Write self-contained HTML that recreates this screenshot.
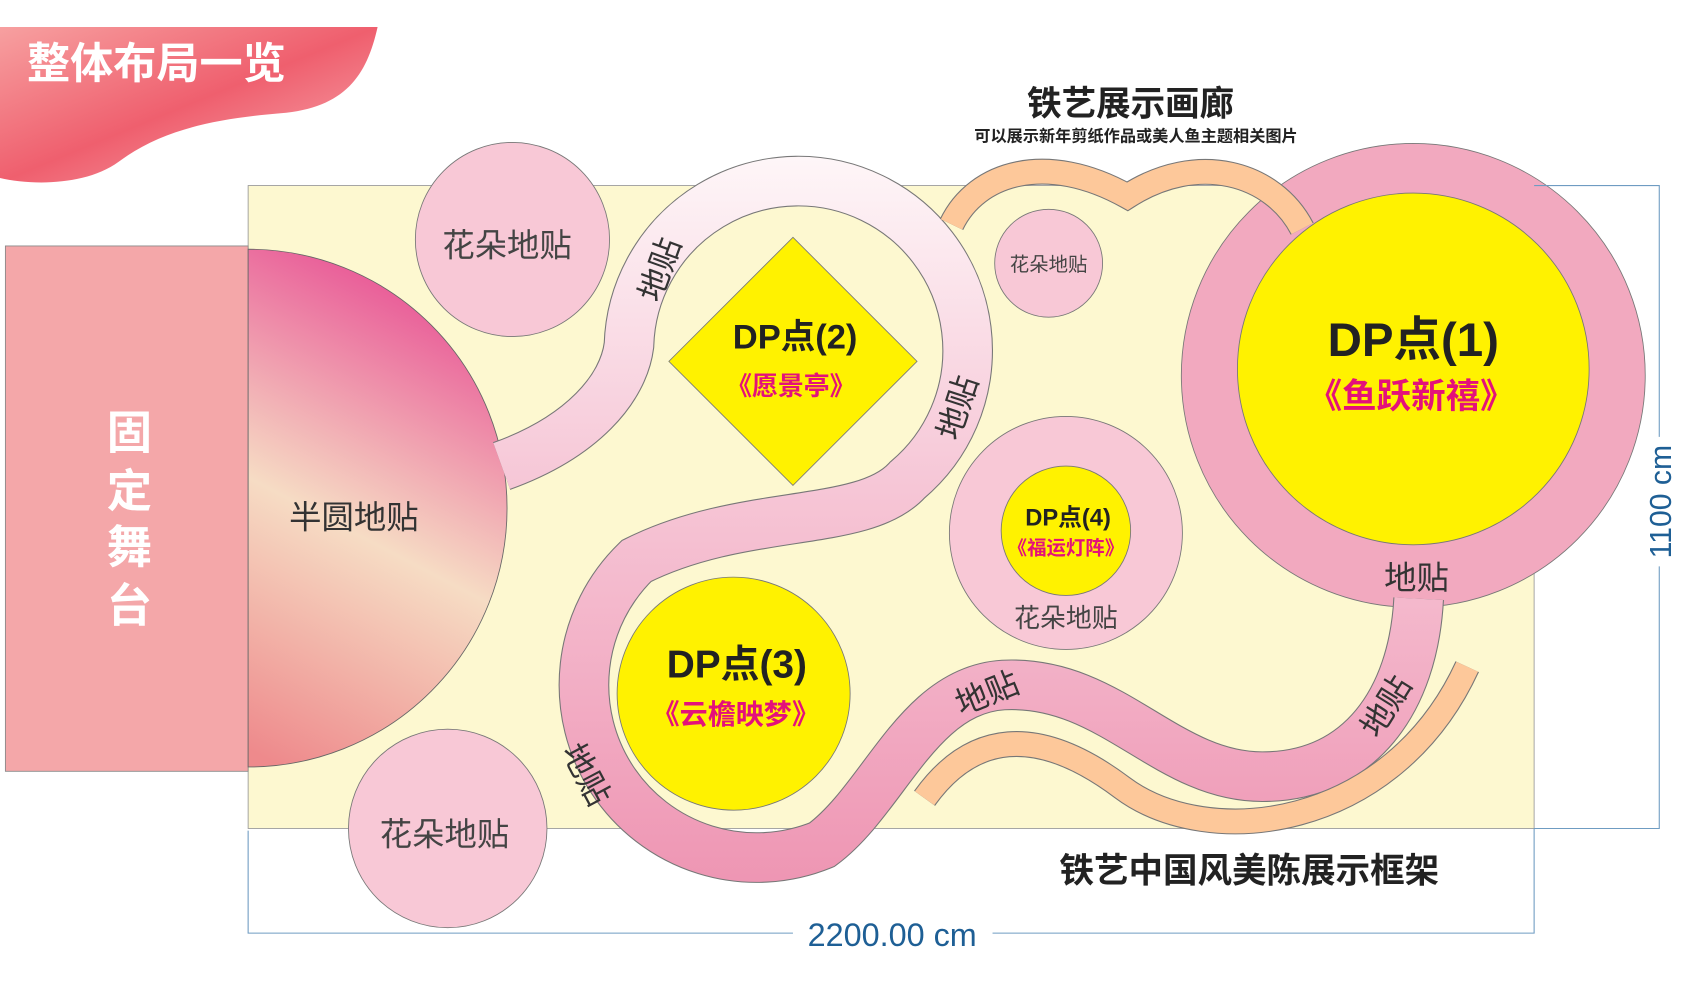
<!DOCTYPE html>
<html><head><meta charset="utf-8"><style>
html,body{margin:0;padding:0;background:#fff;}
svg{display:block;}
text{font-family:"Liberation Sans","Noto Sans CJK SC",sans-serif;}
</style></head><body>
<svg width="1683" height="1000" viewBox="0 0 1560 927" preserveAspectRatio="none" xmlns="http://www.w3.org/2000/svg">
<defs>
<linearGradient id="hc" gradientUnits="userSpaceOnUse" x1="470" y1="260" x2="240" y2="700">
<stop offset="0" stop-color="#e63e8e"/><stop offset="0.55" stop-color="#f6dcc4"/><stop offset="1" stop-color="#ee8a8c"/>
</linearGradient>
<linearGradient id="band" gradientUnits="userSpaceOnUse" x1="0" y1="145" x2="0" y2="830">
<stop offset="0" stop-color="#fef6f8"/><stop offset="0.45" stop-color="#f6c6d6"/><stop offset="1" stop-color="#ee94b2"/>
</linearGradient>
<linearGradient id="blob" x1="0" y1="0" x2="1" y2="1">
<stop offset="0" stop-color="#f7a0a0"/><stop offset="0.5" stop-color="#ef5f6e"/><stop offset="1" stop-color="#f7b0b5"/>
</linearGradient>
</defs>
<path d="M0,25 L350,25 C340,70 320,100 260,105 C200,110 150,120 110,150 C80,172 30,172 0,165 Z" fill="url(#blob)"/>
<text x="25" y="73" font-size="40" font-weight="bold" fill="#fff">整体布局一览</text>
<rect x="230" y="172" width="1192" height="596" fill="#fdf8d0" stroke="#999" stroke-width="0.8"/>
<rect x="5" y="228" width="225" height="487" fill="#f4a7a9" stroke="#888" stroke-width="0.8"/>
<g font-size="42" font-weight="bold" fill="#fff" text-anchor="middle">
<text x="120" y="416">固</text><text x="120" y="470">定</text><text x="120" y="522">舞</text><text x="120" y="576">台</text></g>
<path d="M230,231 A240,240 0 0 1 230,711 Z" fill="url(#hc)" stroke="#666" stroke-width="0.8"/>
<text x="328" y="490" font-size="30" fill="#333" text-anchor="middle">半圆地贴</text>
<circle cx="1310" cy="348" r="215" fill="#f2a9bf" stroke="#777" stroke-width="0.8"/>
<g fill="none">
<path d="M465,432 C540,405 578,360 583,320 A157,157 0 1 1 841,445 C800,490 690,470 590,520 A160,160 0 0 0 762,783 C820,740 850,640 930,635 C1030,630 1080,720 1170,720 C1260,720 1310,650 1315,555" stroke="#777" stroke-width="47"/>
<path d="M465,432 C540,405 578,360 583,320 A157,157 0 1 1 841,445 C800,490 690,470 590,520 A160,160 0 0 0 762,783 C820,740 850,640 930,635 C1030,630 1080,720 1170,720 C1260,720 1310,650 1315,555" stroke="url(#band)" stroke-width="45"/>
</g>
<g fill="none" stroke-linecap="butt">
<path d="M882,208 C905,160 970,140 1045,182 C1110,140 1180,160 1207,212" stroke="#777" stroke-width="24"/>
<path d="M882,208 C905,160 970,140 1045,182 C1110,140 1180,160 1207,212" stroke="#fdc89a" stroke-width="22"/>
<path d="M857,740 C900,680 960,670 1040,730 C1120,790 1290,770 1360,618" stroke="#777" stroke-width="24"/>
<path d="M857,740 C900,680 960,670 1040,730 C1120,790 1290,770 1360,618" stroke="#fdc89a" stroke-width="22"/>
</g>
<circle cx="1310" cy="342" r="163" fill="#fff200" stroke="#777" stroke-width="0.8"/>
<text x="1310" y="330" font-size="44" font-weight="bold" fill="#222" text-anchor="middle">DP点(1)</text>
<text x="1308" y="378" font-size="32" font-weight="bold" fill="#e4117a" text-anchor="middle">《鱼跃新禧》</text>
<text x="1313" y="546" font-size="30" fill="#333" text-anchor="middle">地贴</text>
<circle cx="475" cy="222" r="90" fill="#f8c8d6" stroke="#777" stroke-width="0.8"/>
<text x="470" y="238" font-size="30" fill="#444" text-anchor="middle">花朵地贴</text>
<circle cx="415" cy="768" r="92" fill="#f8c8d6" stroke="#777" stroke-width="0.8"/>
<text x="412" y="784" font-size="30" fill="#444" text-anchor="middle">花朵地贴</text>
<circle cx="972" cy="244" r="50" fill="#f8c8d6" stroke="#777" stroke-width="0.8"/>
<text x="972" y="251" font-size="18" fill="#444" text-anchor="middle">花朵地贴</text>
<circle cx="988" cy="494" r="108" fill="#f8c8d6" stroke="#777" stroke-width="0.8"/>
<circle cx="988" cy="492" r="60" fill="#fff200" stroke="#777" stroke-width="0.8"/>
<text x="990" y="487" font-size="22" font-weight="bold" fill="#222" text-anchor="middle">DP点(4)</text>
<text x="988" y="514" font-size="18" font-weight="bold" fill="#e4117a" text-anchor="middle">《福运灯阵》</text>
<text x="988" y="581" font-size="24" fill="#444" text-anchor="middle">花朵地贴</text>
<polygon points="735,220 850,335 735,450 620,335" fill="#fff200" stroke="#777" stroke-width="0.8"/>
<text x="737" y="323" font-size="32" font-weight="bold" fill="#222" text-anchor="middle">DP点(2)</text>
<text x="733" y="366" font-size="24" font-weight="bold" fill="#e4117a" text-anchor="middle">《愿景亭》</text>
<circle cx="680" cy="643" r="108" fill="#fff200" stroke="#777" stroke-width="0.8"/>
<text x="683" y="628" font-size="36" font-weight="bold" fill="#222" text-anchor="middle">DP点(3)</text>
<text x="682" y="671" font-size="26" font-weight="bold" fill="#e4117a" text-anchor="middle">《云檐映梦》</text>
<g font-size="30" fill="#333" text-anchor="middle">
<text transform="translate(612,250) rotate(-70)" y="10">地贴</text>
<text transform="translate(888,378) rotate(-72)" y="10">地贴</text>
<text transform="translate(543,718) rotate(62)" y="10">地贴</text>
<text transform="translate(915,643) rotate(-22)" y="10">地贴</text>
<text transform="translate(1285,655) rotate(-58)" y="10">地贴</text>
</g>
<text x="1048" y="107" font-size="32" font-weight="bold" fill="#222" text-anchor="middle">铁艺展示画廊</text>
<text x="1053" y="131" font-size="15" font-weight="bold" fill="#222" text-anchor="middle">可以展示新年剪纸作品或美人鱼主题相关图片</text>
<text x="1158" y="818" font-size="32" font-weight="bold" fill="#222" text-anchor="middle">铁艺中国风美陈展示框架</text>
<g stroke="#6f9cc2" stroke-width="1" fill="none">
<path d="M230,770 V865 H735 M920,865 H1422 V768"/>
<path d="M1422,172 H1538 V405 M1538,525 V768 H1422"/>
</g>
<text x="827" y="877" font-size="30" fill="#1e5f95" text-anchor="middle">2200.00 cm</text>
<text transform="translate(1549,465) rotate(-90)" font-size="28" fill="#1e5f95" text-anchor="middle">1100 cm</text>
</svg>
</body></html>
